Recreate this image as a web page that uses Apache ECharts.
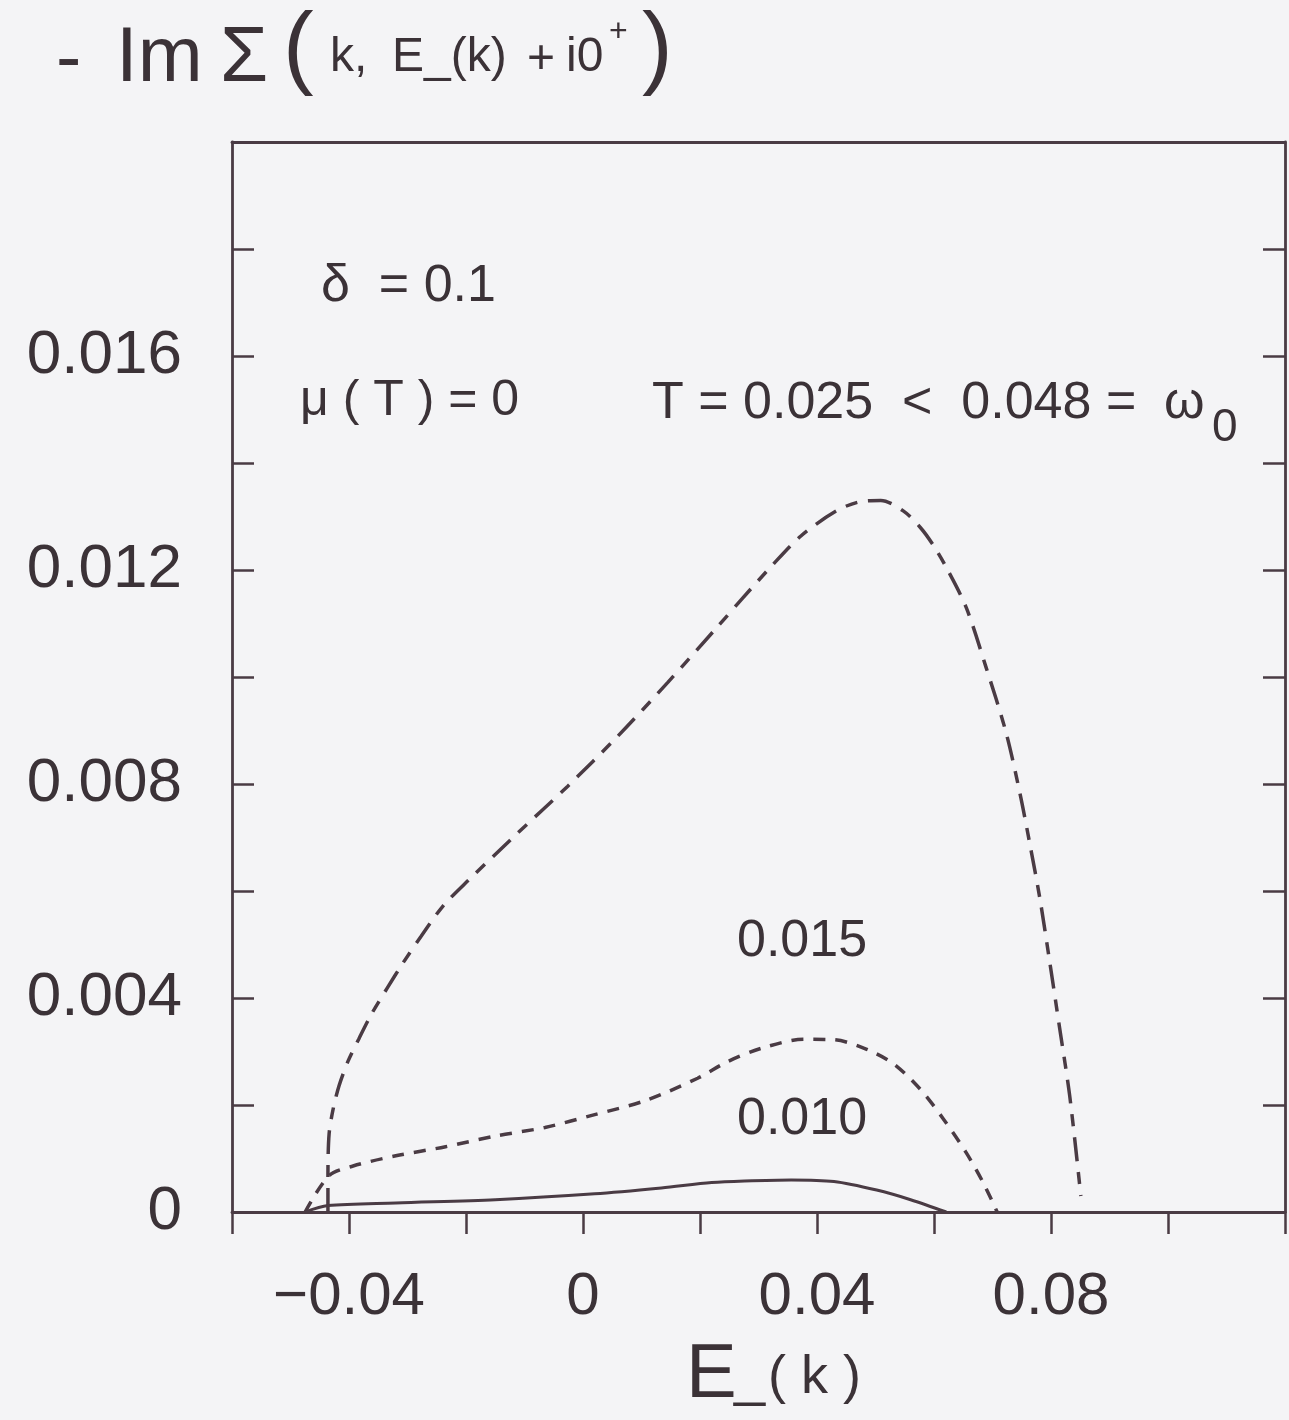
<!DOCTYPE html>
<html>
<head>
<meta charset="utf-8">
<script src="https://cdn.jsdelivr.net/npm/echarts@6/dist/echarts.min.js"></script>
<style>
  html, body { margin: 0; padding: 0; background: #f4f4f6; }
  #chart { width: 1289px; height: 1420px; }
</style>
</head>
<body>
<div id="chart"></div>
<script>
// -Im Σ(k, E_(k) + i0+) against E_(k), delta = 0.1, mu(T) = 0

// T = 0.025 (dash-dot)
const energyT025 = [-0.0436, -0.0436, -0.0434, -0.0427, -0.0417, -0.0402, -0.0383, -0.0361, -0.0335, -0.0308,
  -0.0277, -0.0240, -0.0196, -0.0111, -0.0026, 0.0060, 0.0145, 0.0230, 0.0271, 0.0322,
  0.0373, 0.0434, 0.0475, 0.0509, 0.0548, 0.0577, 0.0599, 0.0621, 0.0655, 0.0689,
  0.0723, 0.0747, 0.0764, 0.0781, 0.0798, 0.0815, 0.0832, 0.0851];
const imSigmaT025 = [0, 0.00068, 0.00146, 0.00193, 0.00236, 0.00281, 0.00324, 0.00371, 0.00418, 0.00465,
  0.00515, 0.00571, 0.00620, 0.00709, 0.00796, 0.00890, 0.00990, 0.01094, 0.01145, 0.01207,
  0.01264, 0.01311, 0.01328, 0.01330, 0.01310, 0.01279, 0.01246, 0.01205, 0.01130, 0.01018,
  0.00897, 0.00782, 0.00687, 0.00586, 0.00466, 0.00342, 0.00217, 0.0003];

// T = 0.015 (short dashes)
const energyT015 = [-0.0475, -0.0434, -0.0393, -0.0320, -0.0235, -0.0150, -0.0065, 0.0020, 0.0106, 0.0196,
  0.0247, 0.0305, 0.0378, 0.0429, 0.0485, 0.0531, 0.0577, 0.0616, 0.0655, 0.0684, 0.0708];
const imSigmaT015 = [0, 0.00068, 0.00086, 0.00105, 0.00122, 0.00142, 0.00158, 0.00182, 0.00208, 0.00250,
  0.00281, 0.00306, 0.00323, 0.00322, 0.00304, 0.00277, 0.00229, 0.00174, 0.00111, 0.00055, 0];

// T = 0.010 (solid)
const energyT010 = [-0.0475, -0.0436, -0.032, -0.015, 0.002, 0.0134, 0.022, 0.0276, 0.0356, 0.0429,
  0.0502, 0.056, 0.0621];
const imSigmaT010 = [0, 0.00012, 0.00017, 0.00023, 0.00034, 0.00045, 0.00055, 0.00058, 0.0006, 0.00057,
  0.00041, 0.00023, 0];

const xTickValues = [-0.04, 0, 0.04, 0.08];
const xTickLabels = ['\u22120.04', '0', '0.04', '0.08'];
const yTickValues = [0, 0.004, 0.008, 0.012, 0.016];
const yTickLabels = ['0', '0.004', '0.008', '0.012', '0.016'];
const curveLabels = ['0.015', '0.010'];

const INK = '#3b3237';
const LINE = '#4a3b44';
const FONT = '"Liberation Sans", Arial, Helvetica, sans-serif';

const zip = (xs, ys) => xs.map((x, i) => [x, ys[i]]);
const pick = (vals, labels) => (v) => {
  const i = vals.findIndex(t => Math.abs(t - v) < 1e-9);
  return i < 0 ? '' : labels[i];
};

const axisLine = { show: true, onZero: false, lineStyle: { color: LINE, width: 2.8 } };
const tickStyle = { color: LINE, width: 2.5 };

function txt(text, x, y, size) {
  return {
    type: 'text', x: x, y: y, silent: true,
    style: {
      text: text, font: size + 'px ' + FONT, fill: INK,
      align: 'left', verticalAlign: 'middle',
      textAlign: 'left', textVerticalAlign: 'middle'
    }
  };
}

const chart = echarts.init(document.getElementById('chart'), null, { renderer: 'canvas' });

chart.setOption({
  backgroundColor: '#f4f4f6',
  animation: false,
  grid: { left: 232, top: 142, width: 1053, height: 1070, containLabel: false },
  xAxis: [
    {
      type: 'value', position: 'bottom', min: -0.06, max: 0.12, interval: 0.02,
      axisLine: axisLine,
      axisTick: { show: true, inside: false, length: 22, lineStyle: tickStyle },
      axisLabel: { formatter: pick(xTickValues, xTickLabels), fontSize: 60, fontFamily: FONT, color: INK, margin: 55 },
      splitLine: { show: false }
    },
    {
      type: 'value', position: 'top', min: -0.06, max: 0.12, interval: 0.02,
      axisLine: axisLine, axisTick: { show: false }, axisLabel: { show: false }, splitLine: { show: false }
    }
  ],
  yAxis: [
    {
      type: 'value', position: 'left', min: 0, max: 0.02, interval: 0.002,
      axisLine: axisLine,
      axisTick: { show: true, inside: true, length: 22, lineStyle: tickStyle },
      axisLabel: { formatter: pick(yTickValues, yTickLabels), fontSize: 62, fontFamily: FONT, color: INK, margin: 50 },
      splitLine: { show: false }
    },
    {
      type: 'value', position: 'right', min: 0, max: 0.02, interval: 0.002,
      axisLine: axisLine,
      axisTick: { show: true, inside: true, length: 22, lineStyle: tickStyle },
      axisLabel: { show: false }, splitLine: { show: false }
    }
  ],
  series: [
    {
      name: 'T = 0.025', type: 'line', data: zip(energyT025, imSigmaT025),
      showSymbol: false, smooth: 0.3,
      lineStyle: { color: LINE, width: 3.5, type: [24, 11, 12, 11] }
    },
    {
      name: 'T = 0.015', type: 'line', data: zip(energyT015, imSigmaT015),
      showSymbol: false, smooth: 0.3,
      lineStyle: { color: LINE, width: 3.5, type: [12, 10] }
    },
    {
      name: 'T = 0.010', type: 'line', data: zip(energyT010, imSigmaT010),
      showSymbol: false, smooth: 0.3,
      lineStyle: { color: LINE, width: 3, type: 'solid' }
    }
  ],
  graphic: [
    // vertical-axis title
    txt('-', 56, 61, 76),
    txt('Im', 116, 59, 78),
    txt('\u03A3', 220, 59, 78),
    txt('(', 283, 52, 92),
    txt('k,', 330, 58, 48),
    txt('E_(k)', 392, 58, 48),
    txt('+', 527, 60, 48),
    txt('i0', 566, 58, 48),
    txt('+', 609, 32, 32),
    txt(')', 642, 52, 92),
    // horizontal-axis title
    txt('E', 686, 1376, 76),
    txt('_', 734, 1380, 56),
    txt('( k )', 768, 1378, 54),
    // parameters
    txt('\u03B4  = 0.1', 321, 287, 52),
    txt('\u03BC ( T ) = 0', 300, 401, 50),
    txt('T = 0.025  <  0.048 =', 652, 404, 52),
    txt('\u03C9', 1164, 404, 52),
    txt('0', 1212, 428, 46),
    // curve labels
    txt(curveLabels[0], 737, 942, 52),
    txt(curveLabels[1], 737, 1120, 52)
  ]
});
</script>
</body>
</html>
